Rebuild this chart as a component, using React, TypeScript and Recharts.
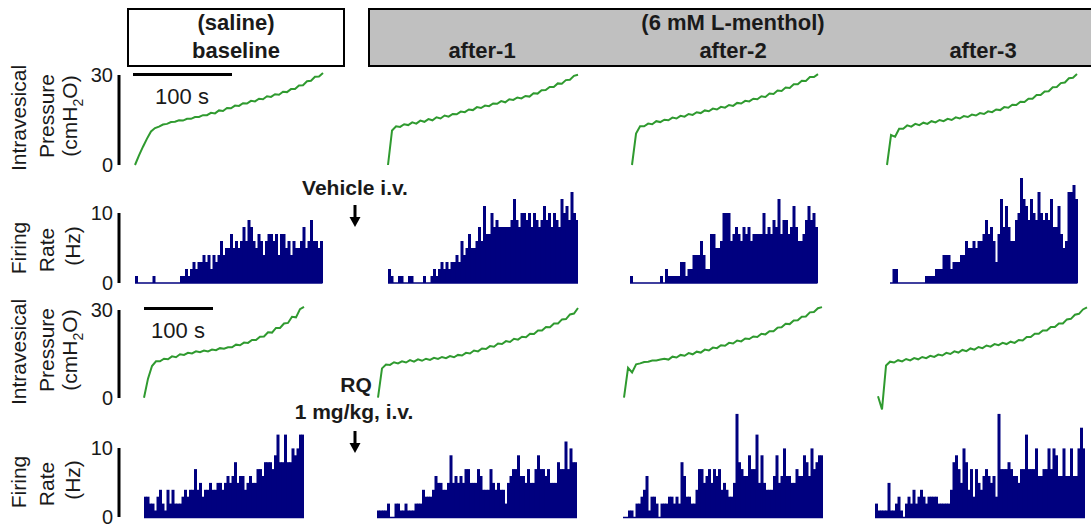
import { LineChart, Line, BarChart, Bar, XAxis, YAxis, ReferenceLine } from "recharts";

const FONT = "'Liberation Sans', Arial, Helvetica, sans-serif";
const GREEN = "#2f9a2f";
const NAVY = "#00007f";
const INK = "#1a1a1a";

// ---- data ----
const columnTitles = ["after-1", "after-2", "after-3"];
const pressureTicks = [0, 30];
const firingTicks = [0, 10];

// intravesical pressure (cmH2O), evenly sampled over each filling
const pressureVehicleBaseline = [0, 3.2, 6.1, 8.8, 11.2, 12.3, 12.8, 13.5, 13.7, 14.3, 14.4, 14.9, 14.8, 15.4, 15.4, 16.0, 16.0, 16.6, 16.6, 17.4, 17.2, 18.2, 18.0, 19.0, 18.9, 19.8, 19.7, 20.6, 20.5, 21.4, 21.2, 22.1, 21.9, 22.9, 22.7, 23.6, 23.4, 24.4, 24.3, 25.3, 25.3, 26.5, 26.6, 27.9, 28.1, 29.4, 29.5, 30.7];
const pressureVehicleAfter1 = [0, 11.5, 12.9, 12.7, 13.6, 13.3, 14.2, 13.8, 14.8, 14.4, 15.3, 14.9, 15.9, 15.5, 16.5, 16.1, 17.0, 16.9, 17.8, 17.6, 18.5, 18.3, 19.3, 19.0, 19.8, 19.6, 20.5, 20.4, 21.3, 20.9, 21.9, 21.7, 22.5, 22.2, 23.0, 22.8, 23.9, 23.8, 24.9, 25.0, 26.0, 26.0, 27.2, 27.1, 28.3, 28.4, 29.7, 30.1];
const pressureVehicleAfter2 = [0, 10.5, 12.9, 12.9, 13.8, 13.6, 14.6, 14.3, 15.1, 14.9, 15.8, 15.5, 16.4, 16.1, 17.0, 16.7, 17.6, 17.3, 18.2, 17.9, 18.8, 18.5, 19.4, 19.1, 20.0, 19.7, 20.7, 20.5, 21.4, 21.2, 22.1, 21.9, 22.9, 22.7, 23.8, 23.7, 24.8, 24.7, 25.8, 25.7, 26.9, 26.9, 28.1, 28.0, 29.3, 29.3, 30.3];
const pressureVehicleAfter3 = [0, 10.0, 9.4, 12.1, 12.1, 13.2, 12.8, 13.7, 13.3, 14.1, 13.7, 14.6, 14.2, 15.0, 14.6, 15.4, 15.0, 15.9, 15.5, 16.3, 16.0, 16.8, 16.5, 17.3, 17.0, 17.9, 17.6, 18.5, 18.3, 19.3, 19.1, 20.1, 20.0, 21.1, 21.0, 22.1, 22.1, 23.3, 23.3, 24.5, 24.6, 25.9, 26.0, 27.3, 27.5, 28.9, 29.1, 30.3];
const pressureRqBaseline = [0, 6.5, 10.8, 12.4, 12.4, 13.3, 13.1, 14.1, 13.8, 14.8, 14.6, 15.3, 15.1, 15.8, 15.5, 16.1, 15.8, 16.4, 16.2, 16.9, 16.7, 17.2, 17.2, 18.1, 17.9, 18.8, 18.7, 19.7, 19.7, 20.8, 20.9, 22.3, 22.2, 23.8, 23.8, 25.3, 25.5, 27.6, 27.4, 30.2, 31.0];
const pressureRqAfter1 = [0, 10.0, 11.3, 11.2, 12.1, 11.7, 12.4, 12.0, 12.8, 12.3, 13.1, 12.6, 13.3, 12.9, 13.6, 13.2, 13.9, 13.5, 14.2, 13.8, 14.6, 14.4, 15.3, 15.1, 16.1, 15.8, 16.8, 16.6, 17.6, 17.4, 18.5, 18.3, 19.3, 19.0, 20.1, 19.8, 20.8, 20.6, 21.8, 21.7, 22.9, 22.9, 24.1, 24.0, 25.3, 25.3, 26.7, 26.8, 28.4, 28.7, 30.6];
const pressureRqAfter2 = [0, 10.2, 8.6, 11.4, 11.7, 12.2, 12.3, 12.7, 12.7, 13.0, 13.3, 13.0, 14.0, 13.7, 14.6, 14.3, 15.2, 14.8, 15.7, 15.4, 16.4, 16.1, 17.1, 16.9, 17.9, 17.7, 18.7, 18.5, 19.5, 19.2, 20.2, 20.0, 20.9, 20.7, 21.8, 21.6, 22.7, 22.7, 23.9, 24.0, 25.2, 25.1, 26.3, 26.4, 27.6, 27.7, 29.1, 29.2, 30.5, 30.9];
const pressureRqAfter3 = [0.5, -4, 11.0, 12.3, 12.0, 12.8, 12.4, 13.2, 12.7, 13.5, 13.1, 13.9, 13.5, 14.3, 13.9, 14.7, 14.4, 15.3, 14.9, 15.8, 15.4, 16.3, 15.9, 16.8, 16.4, 17.3, 16.9, 17.8, 17.4, 18.3, 17.9, 18.7, 18.3, 19.1, 18.7, 19.7, 19.5, 20.7, 20.7, 21.8, 21.8, 22.9, 22.9, 24.1, 24.1, 25.3, 25.3, 26.7, 26.9, 28.3, 28.6, 30.1, 30.8];

// afferent firing rate (Hz), one value per histogram bin
const firingVehicleBaseline = [1, 0, 0, 0, 0, 0, 0, 1, 0, 0, 0, 0, 0, 0, 0, 0, 0, 0, 1, 1, 2, 1, 2, 3, 2, 3, 3, 4, 3, 4, 2, 4, 3, 4, 6, 4, 5, 5, 7, 5, 6, 5, 6, 8, 6, 9, 8, 6, 5, 7, 6, 4, 6, 7, 7, 6, 7, 4, 7, 7, 5, 6, 4, 6, 5, 5, 6, 8, 5, 6, 9, 6, 6, 5, 6];
const firingVehicleAfter1 = [2, 1, 0, 0, 1, 1, 0, 0, 1, 1, 0, 0, 0, 0, 1, 0, 0, 1, 2, 1, 2, 3, 2, 3, 2, 3, 3, 4, 3, 6, 4, 5, 7, 5, 5, 6, 8, 6, 11, 7, 7, 10, 8, 9, 8, 8, 8, 8, 8, 9, 12, 9, 8, 10, 10, 9, 10, 8, 10, 9, 8, 9, 11, 9, 10, 8, 10, 9, 8, 12, 10, 11, 9, 13, 10, 9];
const firingVehicleAfter2 = [1, 0, 0, 0, 0, 0, 0, 0, 0, 0, 0, 0, 1, 0, 2, 1, 1, 1, 1, 1, 3, 3, 1, 2, 2, 4, 4, 4, 6, 4, 2, 2, 7, 7, 5, 5, 6, 10, 10, 10, 6, 7, 8, 7, 6, 8, 7, 8, 6, 7, 7, 7, 7, 10, 7, 8, 7, 9, 8, 12, 7, 9, 9, 7, 8, 11, 8, 6, 6, 7, 9, 11, 9, 10, 8];
const firingVehicleAfter3 = [0, 2, 2, 0, 0, 0, 0, 0, 0, 0, 0, 0, 0, 0, 1, 1, 1, 1, 2, 2, 2, 4, 4, 4, 2, 3, 3, 3, 4, 4, 6, 5, 5, 6, 5, 6, 6, 7, 9, 7, 8, 6, 3, 7, 12, 8, 11, 8, 6, 6, 9, 10, 15, 12, 11, 9, 12, 10, 9, 13, 10, 9, 10, 9, 12, 8, 8, 11, 7, 5, 6, 13, 13, 14, 12];
const firingRqBaseline = [3, 3, 2, 2, 1, 3, 4, 2, 1, 4, 2, 4, 2, 2, 2, 3, 4, 3, 4, 4, 7, 4, 5, 3, 4, 4, 5, 4, 4, 5, 5, 4, 5, 6, 5, 6, 8, 5, 6, 6, 4, 5, 6, 5, 5, 7, 7, 6, 8, 8, 8, 7, 9, 12, 8, 8, 12, 8, 8, 10, 9, 10, 12, 12];
const firingRqAfter1 = [1, 1, 1, 1, 2, 0, 0, 2, 2, 1, 1, 2, 1, 1, 1, 2, 2, 2, 4, 3, 3, 3, 4, 6, 5, 5, 4, 4, 5, 9, 5, 6, 5, 6, 5, 7, 7, 5, 5, 5, 7, 6, 4, 4, 4, 7, 5, 4, 5, 4, 4, 2, 5, 6, 7, 7, 9, 6, 6, 5, 7, 5, 5, 7, 9, 7, 7, 6, 7, 5, 5, 5, 8, 7, 7, 11, 7, 10, 8, 8];
const firingRqAfter2 = [0, 0, 1, 1, 0, 2, 2, 3, 4, 6, 1, 3, 3, 2, 0, 2, 2, 2, 3, 3, 2, 3, 2, 8, 6, 3, 3, 2, 2, 4, 7, 7, 5, 6, 7, 5, 7, 6, 7, 4, 5, 4, 3, 3, 5, 15, 8, 7, 6, 6, 9, 7, 7, 12, 5, 9, 5, 4, 4, 4, 6, 9, 5, 6, 10, 6, 6, 5, 5, 7, 6, 6, 9, 8, 6, 10, 7, 8, 9, 9];
const firingRqAfter3 = [2, 1, 1, 1, 1, 5, 1, 1, 2, 3, 1, 0, 2, 3, 2, 4, 2, 3, 4, 3, 2, 3, 3, 3, 3, 2, 2, 2, 2, 2, 4, 8, 9, 7, 5, 10, 8, 4, 7, 3, 7, 5, 4, 6, 7, 6, 5, 6, 3, 15, 7, 7, 7, 8, 7, 6, 6, 5, 7, 7, 12, 7, 7, 7, 10, 6, 6, 7, 7, 10, 7, 10, 9, 6, 6, 10, 6, 6, 10, 6, 6, 10, 13, 10];

// ---- layout ----
const BIN_PX = 2.5;
const pressureRow1 = { top: 63, height: 108, domain: [-2, 34] };
const pressureRow3 = { top: 298.27, height: 117.33, domain: [-6, 34] };
const firingRow2 = { top: 171, height: 112 };
const firingRow4 = { top: 406.6, height: 110.4 };
const FIRING_DOMAIN = [0, 16];

const toRows = (values: number[]) => values.map((v, i) => ({ i, v }));

type PRow = { top: number; height: number; domain: number[] };
type FRow = { top: number; height: number };

const PressureTrace = ({ values, x, width, row }: { values: number[]; x: number; width: number; row: PRow }) => (
  <div style={{ position: "absolute", left: x - 1, top: row.top }}>
    <LineChart width={width + 2} height={row.height} data={toRows(values)} margin={{ top: 0, right: 1, bottom: 0, left: 1 }}>
      <XAxis dataKey="i" type="number" domain={[0, values.length - 1]} hide />
      <YAxis type="number" domain={row.domain} hide />
      <Line type="linear" dataKey="v" stroke={GREEN} strokeWidth={2} dot={false} isAnimationActive={false} />
    </LineChart>
  </div>
);

const FiringHistogram = ({ values, x, row }: { values: number[]; x: number; row: FRow }) => (
  <div style={{ position: "absolute", left: x, top: row.top }}>
    <BarChart
      width={values.length * BIN_PX}
      height={row.height + 2}
      data={toRows(values)}
      margin={{ top: 0, right: 0, bottom: 2, left: 0 }}
      barCategoryGap={0}
      barGap={0}
    >
      <XAxis dataKey="i" hide />
      <YAxis type="number" domain={FIRING_DOMAIN} hide />
      <ReferenceLine y={0} stroke={NAVY} strokeWidth={1.5} />
      <Bar dataKey="v" fill={NAVY} isAnimationActive={false} />
    </BarChart>
  </div>
);

// black calibration bar with its two tick values, one per row
const ScaleAxis = ({ top, height, ticks }: { top: number; height: number; ticks: number[] }) => (
  <div style={{ position: "absolute", left: 77, top: top - 15 }}>
    <LineChart width={50} height={height + 30} data={ticks.map((t, i) => ({ i, t }))} margin={{ top: 15, right: 4, bottom: 15, left: 0 }}>
      <XAxis dataKey="i" type="number" domain={[0, 1]} hide />
      <YAxis
        type="number"
        domain={[ticks[0], ticks[ticks.length - 1]]}
        ticks={ticks}
        interval={0}
        width={42}
        axisLine={{ stroke: "#000", strokeWidth: 3 }}
        tickLine={false}
        tickSize={0}
        tickMargin={6}
        tick={{ fill: INK, fontSize: 20, fontFamily: FONT }}
      />
      <Line dataKey="t" stroke="none" dot={false} activeDot={false} isAnimationActive={false} />
    </LineChart>
  </div>
);

const Text = ({ cx, cy, size = 21, bold = false, rotate = false, children }: any) => (
  <div
    style={{
      position: "absolute",
      left: cx,
      top: cy,
      transform: `translate(-50%, -50%)${rotate ? " rotate(-90deg)" : ""}`,
      whiteSpace: "nowrap",
      fontFamily: FONT,
      fontSize: size,
      fontWeight: bold ? 700 : 400,
      color: INK,
      lineHeight: 1,
    }}
  >
    {children}
  </div>
);

const PressureTitle = ({ cy }: { cy: number }) => (
  <>
    <Text cx={18} cy={cy} rotate>Intravesical</Text>
    <Text cx={46} cy={cy - 2} rotate>Pressure</Text>
    <Text cx={72} cy={cy - 2} rotate>
      (cmH<sub style={{ fontSize: 14 }}>2</sub>O)
    </Text>
  </>
);

const FiringTitle = ({ cy }: { cy: number }) => (
  <>
    <Text cx={18} cy={cy} rotate>Firing</Text>
    <Text cx={46} cy={cy + 2} rotate>Rate</Text>
    <Text cx={72} cy={cy - 2} rotate>(Hz)</Text>
  </>
);

const Bar100s = ({ x, y, width }: { x: number; y: number; width: number }) => (
  <div style={{ position: "absolute", left: x, top: y - 1.5, width, height: 3, background: "#000" }} />
);

const DownArrow = ({ x, top, length }: { x: number; top: number; length: number }) => (
  <svg style={{ position: "absolute", left: x - 7, top }} width={14} height={length}>
    <line x1={7} y1={0} x2={7} y2={length - 8} stroke="#000" strokeWidth={3} />
    <polygon points={`1.5,${length - 10} 12.5,${length - 10} 7,${length}`} fill="#000" />
  </svg>
);

export default function App() {
  return (
    <div style={{ position: "absolute", left: 0, top: 0, width: 1091, height: 529, overflow: "hidden", background: "#fff" }}>
      {/* condition headers */}
      <div style={{ position: "absolute", left: 127, top: 8, width: 218, height: 59, border: "2px solid #000", boxSizing: "border-box", background: "#fff" }} />
      <Text cx={236} cy={23} size={22} bold>(saline)</Text>
      <Text cx={236} cy={51} size={22} bold>baseline</Text>
      <div style={{ position: "absolute", left: 368, top: 8, width: 740, height: 59, border: "2px solid #000", boxSizing: "border-box", background: "#c0c0c0" }} />
      <Text cx={733} cy={23} size={22} bold>(6 mM L-menthol)</Text>
      <Text cx={482} cy={51} size={22} bold>{columnTitles[0]}</Text>
      <Text cx={733} cy={51} size={22} bold>{columnTitles[1]}</Text>
      <Text cx={983} cy={51} size={22} bold>{columnTitles[2]}</Text>

      {/* axis titles and scales */}
      <PressureTitle cy={118} />
      <FiringTitle cy={248} />
      <PressureTitle cy={352} />
      <FiringTitle cy={482} />
      <ScaleAxis top={75} height={90} ticks={pressureTicks} />
      <ScaleAxis top={213} height={70} ticks={firingTicks} />
      <ScaleAxis top={310} height={88} ticks={pressureTicks} />
      <ScaleAxis top={448} height={69} ticks={firingTicks} />

      <Bar100s x={133} y={74} width={99} />
      <Text cx={182} cy={97} size={22}>100 s</Text>
      <Bar100s x={144} y={308} width={69} />
      <Text cx={178} cy={331} size={22}>100 s</Text>

      {/* treatment annotations */}
      <Text cx={355} cy={187} size={21} bold>Vehicle i.v.</Text>
      <DownArrow x={355} top={205} length={22} />
      <Text cx={356} cy={384} size={21} bold>RQ</Text>
      <Text cx={354} cy={411} size={21} bold>1 mg/kg, i.v.</Text>
      <DownArrow x={355} top={431} length={22} />

      {/* vehicle group */}
      <PressureTrace values={pressureVehicleBaseline} x={135} width={188} row={pressureRow1} />
      <PressureTrace values={pressureVehicleAfter1} x={388} width={190} row={pressureRow1} />
      <PressureTrace values={pressureVehicleAfter2} x={632} width={186} row={pressureRow1} />
      <PressureTrace values={pressureVehicleAfter3} x={887} width={190} row={pressureRow1} />
      <FiringHistogram values={firingVehicleBaseline} x={135} row={firingRow2} />
      <FiringHistogram values={firingVehicleAfter1} x={388} row={firingRow2} />
      <FiringHistogram values={firingVehicleAfter2} x={630} row={firingRow2} />
      <FiringHistogram values={firingVehicleAfter3} x={890} row={firingRow2} />

      {/* RQ group */}
      <PressureTrace values={pressureRqBaseline} x={144} width={160} row={pressureRow3} />
      <PressureTrace values={pressureRqAfter1} x={378} width={200} row={pressureRow3} />
      <PressureTrace values={pressureRqAfter2} x={624} width={198} row={pressureRow3} />
      <PressureTrace values={pressureRqAfter3} x={878} width={209} row={pressureRow3} />
      <FiringHistogram values={firingRqBaseline} x={144} row={firingRow4} />
      <FiringHistogram values={firingRqAfter1} x={377} row={firingRow4} />
      <FiringHistogram values={firingRqAfter2} x={622.5} row={firingRow4} />
      <FiringHistogram values={firingRqAfter3} x={875} row={firingRow4} />
    </div>
  );
}
